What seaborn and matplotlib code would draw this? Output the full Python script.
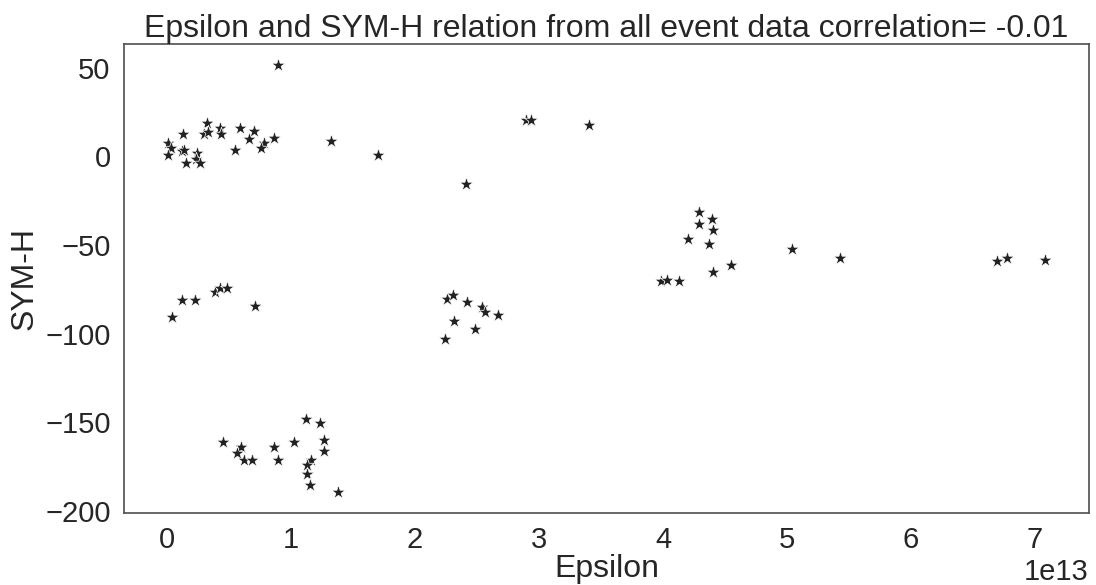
import numpy as np
import pandas as pd
import matplotlib
matplotlib.use("Agg")
import matplotlib.pyplot as plt
import seaborn as sns

# Epsilon values (in units of 1e13) and SYM-H values
epsilon_e13 = [
    0.895, 0.319, 0.126, 0.011, 0.032, 0.005, 0.118, 0.139, 0.150, 0.244,
    0.231, 0.268, 0.300, 0.332, 0.429, 0.437, 0.585, 0.697, 0.660, 0.547,
    0.780, 0.759, 0.866, 1.325, 1.703,
    0.040, 0.123, 0.228, 0.389, 0.424, 0.480, 0.711,
    0.451, 0.598, 0.560, 0.622, 0.681, 0.861, 0.898, 1.024, 1.124, 1.231,
    1.269, 1.263, 1.158, 1.132, 1.132, 1.150, 1.376,
    2.894, 2.939, 3.403, 2.411,
    2.261, 2.303, 2.416, 2.542, 2.564, 2.665, 2.317, 2.486, 2.242,
    3.985, 4.036, 4.125, 4.205, 4.294, 4.395, 4.294, 4.406, 4.368, 4.545,
    4.406, 5.042, 5.424, 6.696, 6.771, 7.082,
]
symh = [
    51.4, 18.6, 12.8, 7.5, 4.7, 0.7, 2.8, 3.5, -3.6, 1.7,
    -1.3, -3.6, 12.6, 13.5, 15.9, 12.6, 15.8, 14.5, 9.6, 3.6,
    7.5, 4.7, 10.5, 8.8, 0.7,
    -90.5, -81.1, -81.1, -76.4, -74.2, -74.2, -84.3,
    -161.0, -164.1, -167.1, -171.1, -171.1, -163.9, -171.1, -161.0, -148.2, -150.4,
    -160.0, -166.2, -171.1, -174.3, -179.2, -185.2, -189.1,
    20.5, 20.5, 17.5, -15.6,
    -80.4, -78.1, -82.1, -85.2, -87.5, -89.2, -92.9, -97.1, -103.1,
    -70.2, -69.5, -70.2, -46.4, -31.4, -35.3, -38.3, -41.5, -49.4, -61.2,
    -65.4, -52.4, -57.3, -59.2, -57.5, -58.4,
]
title = "Epsilon and SYM-H relation from all event data correlation= -0.01"

df = pd.DataFrame({"Epsilon": np.array(epsilon_e13) * 1e13, "SYM-H": symh})

sns.set_theme(style="white")
plt.rcParams["font.family"] = ["Liberation Sans", "DejaVu Sans"]

fig, ax = plt.subplots(figsize=(10.96, 5.85), dpi=100)
fig.subplots_adjust(left=0.113, right=0.9936, top=0.925, bottom=0.123)

sns.scatterplot(data=df, x="Epsilon", y="SYM-H", marker="*", color="#222222",
                s=110, linewidth=0.5, edgecolor="white", ax=ax)

ax.set_title(title, fontsize=23, pad=5)
ax.set_xlabel("Epsilon", fontsize=23, labelpad=0)
ax.set_ylabel("SYM-H", fontsize=23)
ax.tick_params(axis="both", labelsize=21)
ax.xaxis.get_offset_text().set_fontsize(21)
ax.set_yticks([50, 0, -50, -100, -150, -200])
for s in ax.spines.values():
    s.set_color("#555555")

fig.savefig("out.png", dpi=100)
